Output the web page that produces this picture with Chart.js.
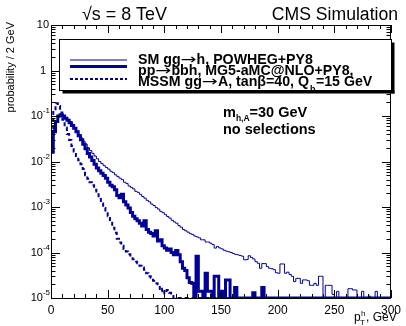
<!DOCTYPE html>
<html>
<head>
<meta charset="utf-8">
<script src="https://cdn.jsdelivr.net/npm/chart.js@4.4.0/dist/chart.umd.min.js"></script>
<style>
  html, body { margin: 0; padding: 0; background: #fff; }
</style>
</head>
<body>
<canvas id="myChart" width="406" height="326"></canvas>
<script>
// pT spectra, 2 GeV bins from 0 to 300 (150 bins each)
const binWidth = 2;
const xTickLabels = [0, 50, 100, 150, 200, 250, 300];
const xMinorStep = 10;
const yDecades = [-5, -4, -3, -2, -1, 0, 1];

const seriesNames = [
  'SM gg\u2192h, POWHEG+PY8',
  'pp\u2192bbh, MG5-aMC@NLO+PY8,',
  'MSSM gg\u2192A, tan\u03b2=40, Q'
];

// thin line
const smGGH = [
  0.018, 0.05, 0.079, 0.095, 0.102, 0.1, 0.093, 0.085, 0.076, 0.066,
  0.056, 0.047, 0.039, 0.033, 0.028, 0.024, 0.020, 0.0174, 0.0151, 0.0132,
  0.0115, 0.0100, 0.0090, 0.0081, 0.0074, 0.0068, 0.0061, 0.0057, 0.0051, 0.0047,
  0.0043, 0.0040, 0.0035, 0.0033, 0.0029, 0.0027, 0.0025, 0.0022, 0.0021, 0.0019,
  0.0017, 0.00156, 0.0014, 0.0013, 0.00116, 0.00108, 0.00097, 0.0009, 0.0008, 0.00075,
  0.00068, 0.00062, 0.00057, 0.00051, 0.00047, 0.00044, 0.00039, 0.00036, 0.00032, 0.0003,
  0.00028, 0.00026, 0.00025, 0.00023, 0.00022, 0.00021, 0.00019, 0.00019, 0.00017, 0.00017,
  0.00016, 0.00015, 0.000125, 0.000135, 0.000126, 0.00012, 0.000112, 0.000107, 0.000104, 0.0001,
  0.000095, 0.000091, 0.000089, 0.000086, 0.000083, 0.000069, 0.00007, 0.000085, 0.000078, 0.000072,
  0.000063, 0.000058, 0.000045, 0.000057, 0.000057, 0.000049, 0.000045, 0.000044, 0.000042, 0.000036,
  0.000035, 0.000056, 0.000056, 0.000035, 0.000037, 0.000033, 0.00003, 0.000023, 0.000027, 0.000027,
  0.000021, 0.000025, 0.000025, 0.000024, 0.000019, 0.000019, 0.000021, 0.000019, 0.00003, 0.00003,
  0, 0.000019, 0.000019, 0.000019, 0.000012, 0, 0.000014, 0, 0, 0,
  0, 0.000016, 0.000016, 0.000015, 0.000015, 0, 0, 0.000014, 0, 0,
  0.000011, 0, 0, 0.000014, 0, 0, 0, 0, 0, 0
];

// thick line
const bbH = [
  0.016, 0.045, 0.076, 0.1, 0.107, 0.1, 0.089, 0.081, 0.071, 0.062,
  0.054, 0.045, 0.037, 0.030, 0.024, 0.019, 0.015, 0.0126, 0.0105, 0.0087,
  0.0072, 0.0063, 0.0055, 0.0049, 0.0043, 0.0035, 0.0030, 0.0028, 0.0024, 0.0018,
  0.0016, 0.0019, 0.0013, 0.0011, 0.00095, 0.00076, 0.00063, 0.00055, 0.0005, 0.00044,
  0.00038, 0.0005, 0.00032, 0.00028, 0.00026, 0.00023, 0.0003, 0.00018, 0.00019, 0.00014,
  0.000126, 0.000112, 0.00012, 0.0001, 0.000089, 0.00011, 0.000089, 0.000063, 0.000045, 0.00004,
  0.000028, 0.000022, 0.000021, 0, 0.000083, 0.000014, 0.000014, 0, 0.000035, 0.000014,
  0.000014, 0, 0.00003, 0.00003, 0, 0.000014, 0, 0.000025, 0.000025, 0,
  0, 0.000017, 0, 0, 0, 0, 0, 0, 0, 0.000013,
  0, 0, 0, 0.000017, 0, 0, 0, 0, 0, 0,
  0, 0, 0, 0, 0, 0, 0, 0, 0, 0,
  0, 0, 0, 0, 0, 0, 0, 0, 0, 0,
  0, 0, 0, 0, 0, 0, 0, 0, 0, 0,
  0, 0, 0, 0, 0, 0, 0, 0, 0, 0,
  0, 0, 0, 0, 0, 0, 0, 0, 0, 0
];

// dashed line
const mssmA = [
  0.02, 0.14, 0.19, 0.166, 0.12, 0.083, 0.056, 0.04, 0.0295, 0.022,
  0.0166, 0.0132, 0.0107, 0.0087, 0.0068, 0.005, 0.0042, 0.0035, 0.003, 0.0024,
  0.0019, 0.0015, 0.0012, 0.00095, 0.00079, 0.00063, 0.00048, 0.00035, 0.00027, 0.0002,
  0.000166, 0.00014, 0.00012, 0.000105, 0.000091, 0.000079, 0.000071, 0.000063, 0.000058, 0.000051,
  0.000047, 0.000042, 0.000035, 0.00003, 0.000028, 0.000024, 0.000021, 0.00002, 0.000014, 0.000016,
  0.0000126, 0.000015, 0.000013, 0.000011, 0, 0, 0, 0, 0, 0,
  0, 0, 0, 0, 0, 0, 0, 0, 0, 0,
  0, 0, 0, 0, 0, 0, 0, 0, 0, 0,
  0, 0, 0, 0, 0, 0, 0, 0, 0, 0,
  0, 0, 0, 0, 0, 0, 0, 0, 0, 0,
  0, 0, 0, 0, 0, 0, 0, 0, 0, 0,
  0, 0, 0, 0, 0, 0, 0, 0, 0, 0,
  0, 0, 0, 0, 0, 0, 0, 0, 0, 0,
  0, 0, 0, 0, 0, 0, 0, 0, 0, 0,
  0, 0, 0, 0, 0, 0, 0, 0, 0, 0
];

const yMin = 1e-5;
const yMax = 10;
const FONT = '"Liberation Sans", Arial, Helvetica, sans-serif';
const ARROW_FONT = '"DejaVu Sans", sans-serif';
const navy = '#000099';

// histogram -> step points at the bin edges, empty bins sit on the floor like in ROOT
function toPoints(vals) {
  const pts = vals.map((v, i) => ({ x: i * binWidth, y: v > 0 ? v : yMin }));
  pts.push({ x: vals.length * binWidth, y: pts[pts.length - 1].y });
  return pts;
}

// text with a wide ROOT-like arrow; draw=false only measures
function richText(ctx, text, x, y, size, weight, draw) {
  const parts = text.split('\u2192');
  const arrowStretch = 1.35;
  parts.forEach((p, i) => {
    ctx.font = weight + ' ' + size + 'px ' + FONT;
    if (draw) ctx.fillText(p, x, y);
    x += ctx.measureText(p).width;
    if (i < parts.length - 1) {
      ctx.font = 'normal ' + size + 'px ' + ARROW_FONT;
      const aw = ctx.measureText('\u2192').width;
      if (draw) {
        ctx.save();
        ctx.translate(x, y);
        ctx.scale(arrowStretch, 1);
        ctx.fillText('\u2192', 0, 0);
        ctx.restore();
      }
      x += aw * arrowStretch;
    }
  });
  return x;
}

function fitSize(ctx, text, weight, width) {
  ctx.font = weight + ' 100px ' + FONT;
  return 100 * width / ctx.measureText(text).width;
}

// ROOT look: frame, inward ticks on all sides, labels with superscripts, legend with shadow
const rootStyle = {
  id: 'rootStyle',
  afterDatasetsDraw(chart) {
    const ctx = chart.ctx;
    const a = chart.chartArea;
    const xs = chart.scales.x;
    const ys = chart.scales.y;
    ctx.save();
    ctx.strokeStyle = '#000';
    ctx.fillStyle = '#000';
    ctx.lineWidth = 1;
    ctx.setLineDash([]);

    ctx.strokeRect(a.left + 0.5, a.top + 0.5, a.right - a.left - 1, a.bottom - a.top);

    ctx.beginPath();
    for (let v = xTickLabels[0]; v <= xTickLabels[xTickLabels.length - 1]; v += xMinorStep) {
      const px = Math.round(xs.getPixelForValue(v)) + 0.5;
      const len = xTickLabels.includes(v) ? 8 : 4;
      ctx.moveTo(px, a.bottom); ctx.lineTo(px, a.bottom - len);
      ctx.moveTo(px, a.top); ctx.lineTo(px, a.top + len);
    }
    yDecades.forEach(e => {
      for (let m = 1; m <= 9; m++) {
        const v = m * Math.pow(10, e);
        if (v > yMax) break;
        const py = Math.round(ys.getPixelForValue(v)) + 0.5;
        const len = m === 1 ? 9 : 4.5;
        ctx.moveTo(a.left, py); ctx.lineTo(a.left + len, py);
        ctx.moveTo(a.right, py); ctx.lineTo(a.right - len, py);
      }
    });
    ctx.stroke();

    // y labels 10^n
    ctx.textBaseline = 'middle';
    ctx.textAlign = 'right';
    yDecades.forEach(e => {
      const py = ys.getPixelForValue(Math.pow(10, e));
      if (e === 0 || e === 1) {
        ctx.font = '11px ' + FONT;
        ctx.fillText(e === 0 ? '1' : '10', e === 0 ? 46 : 49, py);
      } else {
        ctx.font = '8px ' + FONT;
        const sup = String(e);
        const w = ctx.measureText(sup).width;
        ctx.fillText(sup, 50, py - 5);
        ctx.font = '11px ' + FONT;
        ctx.fillText('10', 50 - w, py);
      }
    });

    // y title, top aligned like ROOT
    ctx.save();
    ctx.translate(11, 22);
    ctx.rotate(-Math.PI / 2);
    ctx.textAlign = 'right';
    ctx.font = '11px ' + FONT;
    ctx.fillText('probability / 2 GeV', 0, 0);
    ctx.restore();

    // x title p_T^h, GeV
    ctx.textAlign = 'left';
    ctx.textBaseline = 'alphabetic';
    ctx.font = '12px ' + FONT;
    ctx.fillText('p', 354, 321);
    ctx.font = '8px ' + FONT;
    ctx.fillText('h', 361, 316);
    ctx.fillText('T', 360, 325);
    ctx.font = '12px ' + FONT;
    ctx.fillText(', GeV', 366, 321);

    // header
    let s = fitSize(ctx, '\u221as = 8 TeV', 'normal', 85);
    ctx.font = s.toFixed(1) + 'px ' + FONT;
    ctx.fillText('\u221as = 8 TeV', 82, 19.5);
    s = fitSize(ctx, 'CMS Simulation', 'normal', 126);
    ctx.font = s.toFixed(1) + 'px ' + FONT;
    ctx.textAlign = 'right';
    ctx.fillText('CMS Simulation', 398, 19.5);
    ctx.textAlign = 'left';

    // legend box + shadow
    const lx = 59.5, ly = 39.5, lw = 332, lh = 51;
    ctx.fillRect(lx + 3, ly + lh, lw, 3);
    ctx.fillRect(lx + lw, ly + 3, 3, lh);
    ctx.fillStyle = '#fff';
    ctx.fillRect(lx, ly, lw, lh);
    ctx.fillStyle = '#000';
    ctx.strokeRect(lx, ly, lw, lh);

    const rows = [60, 66.5, 79];
    const baselines = [64, 74.5, 85.5];
    chart.data.datasets.forEach((ds, i) => {
      ctx.strokeStyle = ds.borderColor;
      ctx.lineWidth = ds.borderWidth;
      ctx.setLineDash(i === 2 ? [3, 2] : []);
      ctx.beginPath();
      ctx.moveTo(70, rows[i]);
      ctx.lineTo(127, rows[i]);
      ctx.stroke();
    });
    ctx.setLineDash([]);
    // legend font sized so the second entry spans the same width as in the plot
    const w100 = richText(ctx, seriesNames[1], 0, 0, 100, 'bold', false);
    const ls = +(100 * 215 / w100).toFixed(1);
    let qx = 0;
    seriesNames.forEach((t, i) => { qx = richText(ctx, t, 138, baselines[i], ls, 'bold', true); });
    ctx.font = 'bold 9px ' + FONT;
    ctx.fillText('b', qx + 1, 92);
    qx += ctx.measureText('b').width + 1.5;
    ctx.font = 'bold ' + ls + 'px ' + FONT;
    ctx.fillText('=15 GeV', qx, baselines[2]);

    // mass label
    ctx.font = 'bold 14.5px ' + FONT;
    ctx.fillText('m', 223, 117);
    let mx = 223 + ctx.measureText('m').width;
    ctx.font = 'bold 8.5px ' + FONT;
    ctx.fillText('h,A', mx, 121);
    mx += ctx.measureText('h,A').width;
    ctx.font = 'bold 14.5px ' + FONT;
    ctx.fillText('=30 GeV', mx, 117);
    ctx.fillText('no selections', 223, 133.5);

    ctx.restore();
  }
};

const ctx = document.getElementById('myChart');
new Chart(ctx, {
  type: 'line',
  data: {
    datasets: [
      { label: seriesNames[0], data: toPoints(smGGH), borderColor: navy, borderWidth: 1, stepped: 'before', pointRadius: 0, fill: false },
      { label: seriesNames[1], data: toPoints(bbH), borderColor: navy, borderWidth: 3, stepped: 'before', pointRadius: 0, fill: false },
      { label: seriesNames[2], data: toPoints(mssmA), borderColor: navy, borderWidth: 2, borderDash: [4, 3], stepped: 'before', pointRadius: 0, fill: false }
    ]
  },
  options: {
    responsive: false,
    animation: false,
    events: [],
    layout: { padding: { left: 0, right: 11, top: 25, bottom: 0 } },
    plugins: { legend: { display: false }, tooltip: { enabled: false } },
    scales: {
      x: {
        type: 'linear', min: 0, max: 300,
        grid: { display: false, drawTicks: false },
        border: { display: false },
        afterBuildTicks: s => { s.ticks = xTickLabels.map(v => ({ value: v })); },
        ticks: { autoSkip: false, maxRotation: 0, padding: 5, color: '#000', font: { family: FONT, size: 12 } },
        afterFit: s => { s.height = 28; }
      },
      y: {
        type: 'logarithmic', min: yMin, max: yMax,
        grid: { display: false, drawTicks: false },
        border: { display: false },
        ticks: { display: false },
        afterFit: s => { s.width = 51; }
      }
    }
  },
  plugins: [rootStyle]
});
</script>
</body>
</html>
